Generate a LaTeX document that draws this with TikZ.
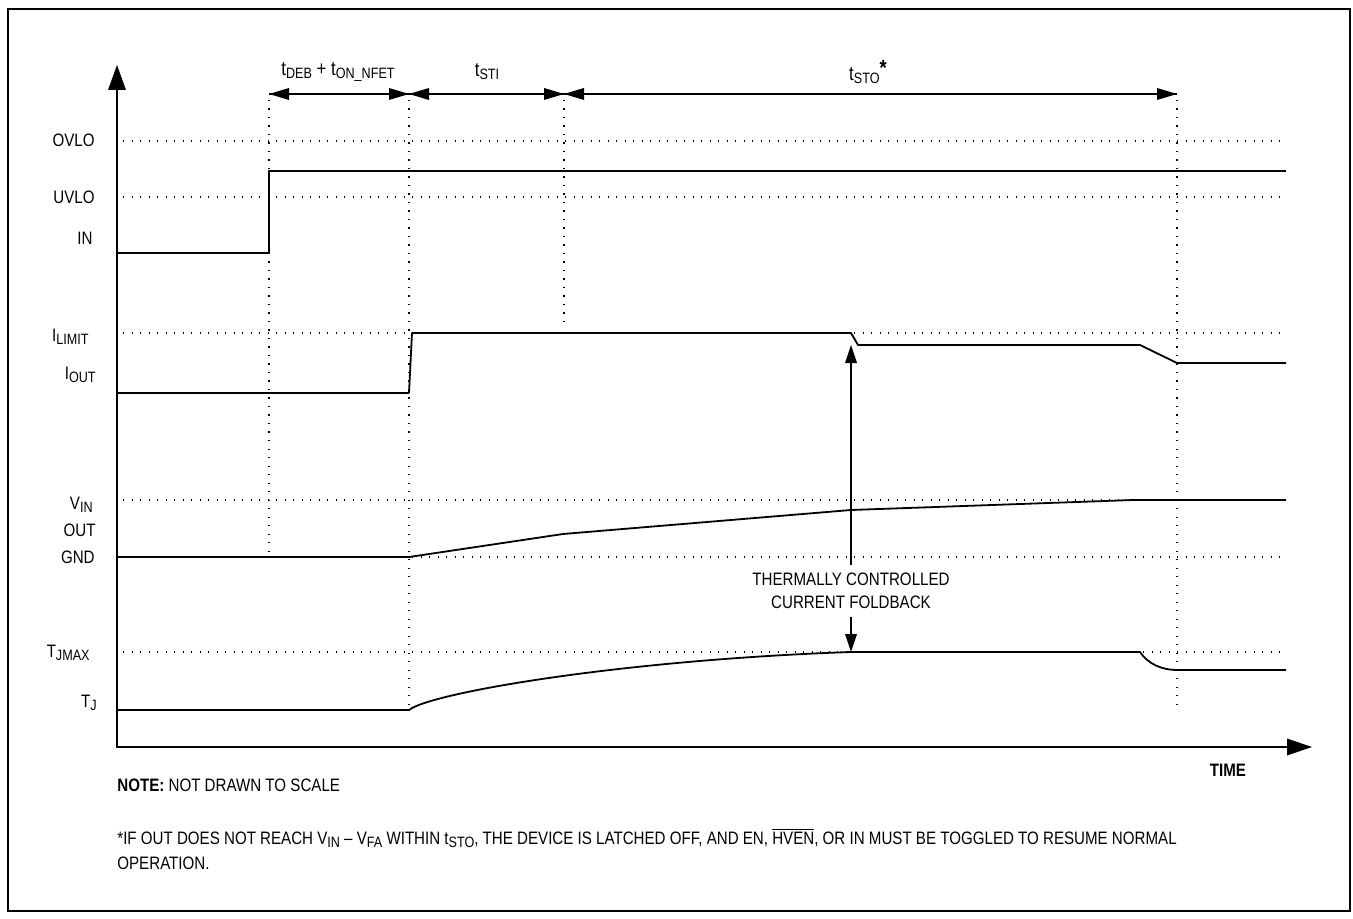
\documentclass[tikz,border=0pt]{standalone}
\usepackage{fontspec}
\setmainfont{Liberation Sans}[FakeStretch=0.84]
\usepackage{tikz}
\newcommand{\lsub}[1]{\raisebox{-0.3ex}{\fontsize{7.5}{8}\selectfont #1}}

\begin{document}
\begin{tikzpicture}[x=0.5pt,y=0.5pt]
\tikzstyle{every node}+=[inner sep=0pt,font=\fontsize{9}{11}\selectfont]
\tikzstyle{grid}=[black,line width=0.6pt,dash pattern=on 0.6pt off 3.65pt]
\tikzstyle{wave}=[black,line width=0.9pt,line join=round]
\tikzstyle{axis}=[black,line width=1.3pt]
\tikzstyle{dim}=[font=\fontsize{10}{11}\selectfont]
\useasboundingbox (0,0) rectangle (1353,-919);
\draw [axis] (8,-9) rectangle (1350,-911);
\draw [grid] (123,-141) -- (1286,-141);
\draw [grid] (123,-197) -- (1286,-197);
\draw [grid] (123,-333) -- (1286,-333);
\draw [grid] (123,-500) -- (1286,-500);
\draw [grid] (123,-557) -- (1286,-557);
\draw [grid] (123,-652) -- (1286,-652);
\draw [grid] (269,-100) -- (269,-552);
\draw [grid] (409,-100) -- (409,-707);
\draw [grid] (564,-100) -- (564,-326);
\draw [grid] (1177,-100) -- (1177,-710);
\draw [axis] (117,-88) -- (117,-747) -- (1290,-747);
\fill [black] (117,-65) -- (108,-90) -- (126,-90);
\fill [black] (1312,-747) -- (1287,-738.5) -- (1287,-755.5);
\draw [wave] (117,-253) -- (269,-253) -- (269,-171) -- (1286,-171);
\draw [wave] (117,-393) -- (409,-393) -- (412,-333) -- (851,-333) -- (858,-345) -- (1140,-345) -- (1177,-363) -- (1286,-363);
\draw [wave] (117,-557) -- (409,-557) -- (563,-534) -- (851,-510) -- (1133,-500) -- (1286,-500);
\draw [wave] (117,-710) -- (409,-710) .. controls (430,-693) and (620,-660) .. (851,-652) -- (1140,-652) .. controls (1148,-664) and (1162,-670) .. (1177,-670) -- (1286,-670);
\coordinate (d0) at (269,-94);
\coordinate (d1) at (409,-94);
\coordinate (d2) at (564,-94);
\coordinate (d3) at (1177,-94);
\draw [black,line width=0.8pt] (d0) -- (d1) -- (d2) -- (d3);
\fill [black] (269,-94) -- (289,-88) -- (289,-100);
\fill [black] (409,-94) -- (389,-88) -- (389,-100);
\fill [black] (409,-94) -- (429,-88) -- (429,-100);
\fill [black] (564,-94) -- (544,-88) -- (544,-100);
\fill [black] (564,-94) -- (584,-88) -- (584,-100);
\fill [black] (1177,-94) -- (1157,-88) -- (1157,-100);
\node [dim] (tdeb) at (338,-72) {t\lsub{DEB} + t\lsub{ON\_NFET}};
\node [dim] (tsti) at (487,-72) {t\lsub{STI}};
\node [dim] (tsto) at (868,-72) {t\lsub{STO}\raisebox{0.45ex}{\fontsize{11}{11}\selectfont\textbf{*}}};
\node [anchor=east] (ovlo) at (95,-140) {OVLO};
\node [anchor=east] (uvlo) at (95,-197) {UVLO};
\node [anchor=east] (in) at (93,-238) {IN};
\node [anchor=east] (ilimit) at (89,-337) {I\lsub{LIMIT}};
\node [anchor=east] (iout) at (96,-375) {I\lsub{OUT}};
\node [anchor=east] (vin) at (93,-505) {V\lsub{IN}};
\node [anchor=east] (out) at (96,-530) {OUT};
\node [anchor=east] (gnd) at (95,-557) {GND};
\node [anchor=east] (tjmax) at (90,-653) {T\lsub{JMAX}};
\node [anchor=east] (tj) at (97,-703) {T\lsub{J}};
\node [align=center,font=\fontsize{9}{11.5}\selectfont] (fold) at (851,-591) {THERMALLY CONTROLLED\\CURRENT FOLDBACK};
\coordinate (fbtop) at (851,-345);
\coordinate (fbbot) at (851,-652);
\draw [black,line width=0.8pt] ([yshift=4pt]fold.north) -- (851,-360);
\fill [black] (fbtop) -- (845,-363) -- (857,-363);
\draw [black,line width=0.8pt] ([yshift=-4pt]fold.south) -- (851,-636);
\fill [black] (fbbot) -- (845,-634) -- (857,-634);
\node (time) at (1228,-770) {\textbf{TIME}};
\node [anchor=west] (note) at (117,-785) {\textbf{NOTE:} NOT DRAWN TO SCALE};
\node [anchor=west,align=left,font=\fontsize{9}{12.5}\selectfont] (foot) at (117,-849) {*IF OUT DOES NOT REACH V\lsub{IN} -- V\lsub{FA} WITHIN t\lsub{STO}, THE DEVICE IS LATCHED OFF, AND EN, $\overline{\mbox{HVEN}}$, OR IN MUST BE TOGGLED TO RESUME NORMAL\\OPERATION.};
\end{tikzpicture}
\end{document}
